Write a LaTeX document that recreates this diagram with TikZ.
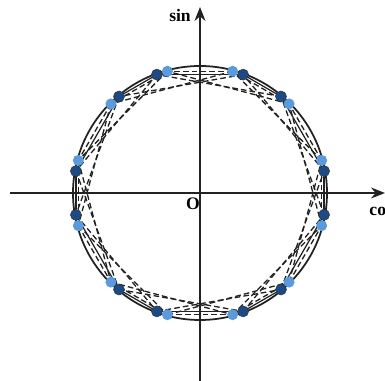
\documentclass[tikz,border=0pt]{standalone}
\usepackage{fontspec}
\setmainfont{Liberation Serif}
\usetikzlibrary{arrows.meta}
\definecolor{cdark}{HTML}{1B4A86}
\definecolor{clight}{HTML}{5A9BDC}
\definecolor{cline}{HTML}{222222}
\tikzset{
  every picture/.style={x=0.02cm, y=0.02cm, line width=0.8pt},
  axis/.style={draw=cline, line width=0.9pt, -{Stealth[length=2.8mm, width=2.2mm]}},
  chord/.style={draw=cline, dash pattern=on 3.2pt off 1.8pt, line width=0.75pt},
  rim/.style={draw=cline, line width=0.7pt},
  darkdot/.style={circle, fill=cdark, draw=black!80, line width=0.3pt, inner sep=0pt, minimum size=2.2mm},
  lightdot/.style={circle, fill=clight, inner sep=0pt, minimum size=2.2mm},
  axlabel/.style={font=\bfseries, inner sep=1pt},
}
\begin{document}
\begin{tikzpicture}
  \useasboundingbox (-200,-188) rectangle (185,193);
  % axes
  \coordinate (O) at (0,0);
  \coordinate (xl) at (-190,0);
  \coordinate (xr) at (185,0);
  \coordinate (yb) at (0,-188);
  \coordinate (yt) at (0,186);
  \draw[axis] (xl) -- (xr);
  \draw[axis] (yb) -- (yt);
  \node[axlabel] (sinlab) at (-20,178) {sin};
  \node[axlabel] (olab) at (-7,-11) {O};
  \node[axlabel, anchor=west] (coslab) at (167,-18) {cos};
  % unit circle
  \draw[rim, line width=1pt] (O) circle (127);
  % points: light every 30 deg, dark shifted by -5/+5 deg
  \foreach \i in {0,...,11} {
    \pgfmathsetmacro\da{15+30*\i+10*mod(\i,2)-5}
    \coordinate (L\i) at ({15+30*\i}:126);
    \coordinate (D\i) at (\da:126);
  }
  % chords
  \foreach \i in {0,...,11} {
    \pgfmathtruncatemacro\j{mod(\i+2,12)}
    \pgfmathtruncatemacro\k{mod(\i+1,12)}
    \draw[chord] (L\i) -- (L\j);
    \draw[chord] (D\i) -- (D\j);
    \draw[chord] (L\i) -- (L\k);
    \draw[rim] (D\i) -- (D\k);
  }
  % dots on top
  \foreach \i in {0,...,11} {
    \node[lightdot] (l\i) at (L\i) {};
    \node[darkdot] (d\i) at (D\i) {};
  }
\end{tikzpicture}
\end{document}
